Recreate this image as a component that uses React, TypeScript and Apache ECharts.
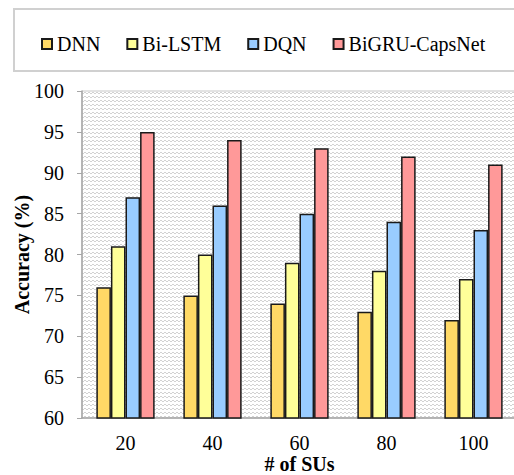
import React, { useEffect, useRef } from "react";
import * as echarts from "echarts";

const categories = ["20", "40", "60", "80", "100"];
const seriesNames = ["DNN", "Bi-LSTM", "DQN", "BiGRU-CapsNet"];
const dnn = [76, 75, 74, 73, 72];
const biLstm = [81, 80, 79, 78, 77];
const dqn = [87, 86, 85, 84, 83];
const bigru = [95, 94, 93, 92, 91];
const colors = ["#FFD966", "#FFFF99", "#99CCFF", "#FF9999"];
const yTicks = [60, 65, 70, 75, 80, 85, 90, 95, 100];

const FONT = "'Liberation Serif', 'Times New Roman', serif";

function makeHatch(): string {
  const c = document.createElement("canvas");
  c.width = 4;
  c.height = 4;
  const ctx = c.getContext("2d")!;
  ctx.fillStyle = "#ffffff";
  ctx.fillRect(0, 0, 4, 4);
  ctx.fillStyle = "#d2d2d2";
  ctx.fillRect(0, 0, 2, 1);
  ctx.fillRect(2, 1, 2, 1);
  return c.toDataURL();
}

export default function App() {
  const ref = useRef<HTMLDivElement>(null);
  useEffect(() => {
    if (!ref.current) return;
    const chart = echarts.init(ref.current, undefined, { renderer: "svg" });
    const hatch = makeHatch();
    const data = [dnn, biLstm, dqn, bigru];
    chart.setOption({
      animation: false,
      backgroundColor: "#ffffff",
      textStyle: { fontFamily: FONT },
      graphic: [
        {
          type: "rect",
          shape: { x: 14, y: 9, width: 520, height: 62 },
          style: { fill: "#ffffff", stroke: "#d0d0d0", lineWidth: 2 },
          z: -1,
        },
      ],
      legend: {
        left: 36,
        top: 29,
        itemWidth: 10,
        itemHeight: 10,
        itemGap: 26,
        icon: "rect",
        textStyle: { fontFamily: FONT, fontSize: 20, color: "#000" },
        data: seriesNames,
      },
      grid: {
        left: 82,
        top: 91,
        right: -3,
        bottom: 57,
        outerBoundsMode: "none",
        containLabel: false,
        show: true,
        backgroundColor: { image: hatch, repeat: "repeat" },
        borderColor: "#c8c8c8",
        borderWidth: 1,
      },
      xAxis: {
        type: "category",
        data: categories,
        name: "# of SUs",
        nameLocation: "middle",
        nameGap: 36,
        nameMoveOverlap: false,
        nameTextStyle: { fontFamily: FONT, fontSize: 20, fontWeight: "bold", color: "#000" },
        axisLine: { lineStyle: { color: "#a6a6a6", width: 1.5 } },
        axisTick: { show: false },
        axisLabel: { fontFamily: FONT, fontSize: 20, color: "#000", margin: 15 },
      },
      yAxis: {
        type: "value",
        min: 60,
        max: 100,
        interval: 5,
        name: "Accuracy (%)",
        nameLocation: "middle",
        nameGap: 50,
        nameMoveOverlap: false,
        nameTextStyle: { fontFamily: FONT, fontSize: 20, fontWeight: "bold", color: "#000" },
        axisLine: { show: true, lineStyle: { color: "#a6a6a6", width: 1.5 } },
        axisTick: { show: true, length: 5, lineStyle: { color: "#a6a6a6" } },
        splitLine: { show: false },
        axisLabel: {
          fontFamily: FONT,
          fontSize: 20,
          color: "#000",
          margin: 18,
          formatter: (v: number) => (yTicks.includes(v) ? String(v) : ""),
        },
      },
      series: seriesNames.map((name, i) => ({
        name,
        type: "bar",
        data: data[i],
        barGap: "0%",
        barCategoryGap: "33%",
        itemStyle: { color: colors[i], borderColor: "#1a1a1a", borderWidth: 1.5 },
      })),
    });
    return () => chart.dispose();
  }, []);
  return <div ref={ref} style={{ width: 514, height: 475, position: "absolute", left: 0, top: 0 }} />;
}
